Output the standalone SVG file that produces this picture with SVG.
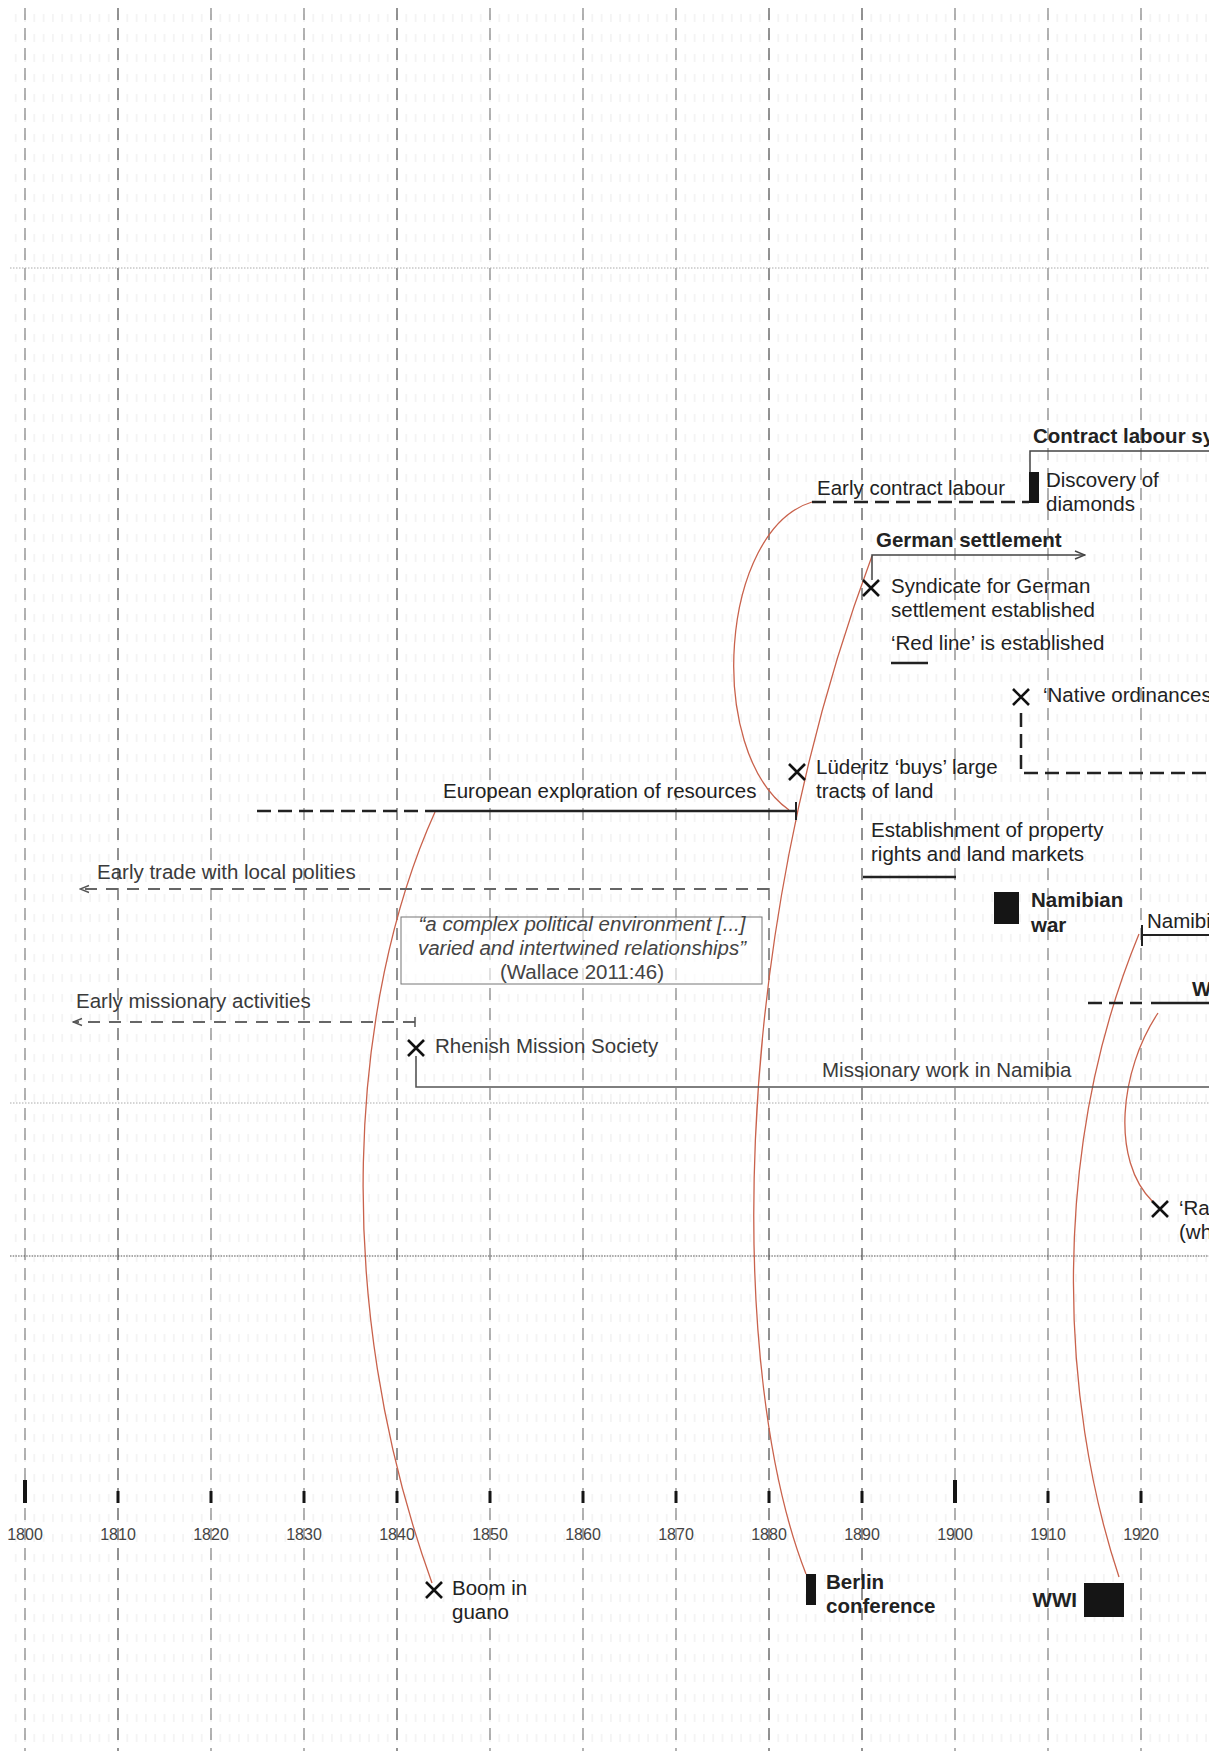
<svg xmlns="http://www.w3.org/2000/svg" width="1226" height="1751" viewBox="0 0 1226 1751">
<defs>
<style>
text{font-family:"Liberation Sans",Arial,Helvetica,sans-serif;font-size:20.5px;fill:#222}
.b{font-weight:bold}
.g{fill:#3a3a3a}
.q{font-style:italic;fill:#444;text-anchor:middle}
.qn{fill:#444;text-anchor:middle}
.yr{font-size:16px;fill:#444;text-anchor:middle}
.dec{stroke:#8a8a8a;stroke-width:1.3;stroke-dasharray:12 8;fill:none}
.decd{stroke:#5a5a5a;stroke-width:1.3;stroke-dasharray:12 8;fill:none}
.red{stroke:#c9624c;stroke-width:1.3;fill:none}
.solid{stroke:#222;stroke-width:2.5;fill:none}
.thin{stroke:#444;stroke-width:1.5;fill:none}
.dash{stroke:#222;stroke-width:2.5;stroke-dasharray:14 7;fill:none}
.gdash{stroke:#666;stroke-width:2;stroke-dasharray:12 9;fill:none}
.x{stroke:#111;stroke-width:2.6;fill:none}
.blk{fill:#151515}
</style>
<pattern id="minor" patternUnits="userSpaceOnUse" x="20.35" y="14" width="9.3" height="20">
<rect x="4.15" y="0" width="1" height="8" fill="#ebebeb"/>
</pattern>
<marker id="openR" markerWidth="12" markerHeight="10" refX="11" refY="5" orient="auto" markerUnits="userSpaceOnUse">
<path d="M1,1 L11,5 L1,9" fill="none" stroke="#444" stroke-width="1.4"/>
</marker>
<marker id="openG" markerWidth="12" markerHeight="10" refX="11" refY="5" orient="auto" markerUnits="userSpaceOnUse">
<path d="M2,1.5 L11,5 L2,8.5" fill="none" stroke="#555" stroke-width="1.4"/>
</marker>
<clipPath id="frame"><rect x="0" y="0" width="1209" height="1751"/></clipPath>
</defs>
<rect width="1226" height="1751" fill="#fff"/>
<g clip-path="url(#frame)">
<g id="grid">
<rect x="8" y="8" width="1201" height="1743" fill="url(#minor)"/>
<line class="dec" x1="25" y1="8" x2="25" y2="1751"/>
<line class="decd" x1="118" y1="8" x2="118" y2="1751"/>
<line class="dec" x1="211" y1="8" x2="211" y2="1751"/>
<line class="dec" x1="304" y1="8" x2="304" y2="1751"/>
<line class="decd" x1="397" y1="8" x2="397" y2="1751"/>
<line class="dec" x1="490" y1="8" x2="490" y2="1751"/>
<line class="dec" x1="583" y1="8" x2="583" y2="1751"/>
<line class="dec" x1="676" y1="8" x2="676" y2="1751"/>
<line class="decd" x1="769" y1="8" x2="769" y2="1751"/>
<line class="decd" x1="862" y1="8" x2="862" y2="1751"/>
<line class="dec" x1="955" y1="8" x2="955" y2="1751"/>
<line class="dec" x1="1048" y1="8" x2="1048" y2="1751"/>
<line class="dec" x1="1141" y1="8" x2="1141" y2="1751"/>
<line x1="10" y1="268" x2="1209" y2="268" stroke="#aaa" stroke-width="1" stroke-dasharray="1.5 1.5"/>
<line x1="10" y1="1103" x2="1209" y2="1103" stroke="#aaa" stroke-width="1" stroke-dasharray="1.5 1.5"/>
<line x1="10" y1="1256" x2="1209" y2="1256" stroke="#555" stroke-width="1.2" stroke-dasharray="1.5 1.2"/>
</g>
<g id="axis">
<rect x="23" y="1480" width="4" height="23" class="blk"/>
<rect x="116.5" y="1491" width="3" height="12" class="blk"/>
<rect x="209.5" y="1491" width="3" height="12" class="blk"/>
<rect x="302.5" y="1491" width="3" height="12" class="blk"/>
<rect x="395.5" y="1491" width="3" height="12" class="blk"/>
<rect x="488.5" y="1491" width="3" height="12" class="blk"/>
<rect x="581.5" y="1491" width="3" height="12" class="blk"/>
<rect x="674.5" y="1491" width="3" height="12" class="blk"/>
<rect x="767.5" y="1491" width="3" height="12" class="blk"/>
<rect x="860.5" y="1491" width="3" height="12" class="blk"/>
<rect x="953" y="1480" width="4" height="23" class="blk"/>
<rect x="1046.5" y="1491" width="3" height="12" class="blk"/>
<rect x="1139.5" y="1491" width="3" height="12" class="blk"/>
<text class="yr" x="25" y="1540">1800</text>
<text class="yr" x="118" y="1540">1810</text>
<text class="yr" x="211" y="1540">1820</text>
<text class="yr" x="304" y="1540">1830</text>
<text class="yr" x="397" y="1540">1840</text>
<text class="yr" x="490" y="1540">1850</text>
<text class="yr" x="583" y="1540">1860</text>
<text class="yr" x="676" y="1540">1870</text>
<text class="yr" x="769" y="1540">1880</text>
<text class="yr" x="862" y="1540">1890</text>
<text class="yr" x="955" y="1540">1900</text>
<text class="yr" x="1048" y="1540">1910</text>
<text class="yr" x="1141" y="1540">1920</text>
</g>
<g id="connectors">
<path class="red" d="M435,812 C350,1000 330,1300 432,1583"/>
<path class="red" d="M812,502 C720,530 705,750 789,810"/>
<path class="red" d="M806,1574 C730,1380 725,950 872,556"/>
<path class="red" d="M1119,1577 C1060,1400 1050,1150 1139,934"/>
<path class="red" d="M1158,1013 C1120,1070 1110,1160 1153,1202"/>
</g>
<g id="contract-labour">
<text class="b" x="1033" y="443">Contract labour sy</text>
<path class="thin" d="M1030,472 V451 H1209"/>
</g>
<g id="discovery-diamonds">
<rect class="blk" x="1029" y="472" width="10" height="31"/>
<text x="1046" y="487">Discovery of</text>
<text x="1046" y="511">diamonds</text>
</g>
<g id="early-contract-labour">
<text x="817" y="495">Early contract labour</text>
<line class="dash" x1="812" y1="502" x2="1029" y2="502"/>
</g>
<g id="german-settlement">
<text class="b" x="876" y="547">German settlement</text>
<path class="thin" d="M872,580 V555 H1085" marker-end="url(#openR)"/>
</g>
<g id="syndicate">
<path class="x" d="M863,580 L879,596 M879,580 L863,596"/>
<text x="891" y="593">Syndicate for German</text>
<text x="891" y="617">settlement established</text>
</g>
<g id="red-line">
<text x="891" y="650">‘Red line’ is established</text>
<line class="solid" x1="891" y1="663" x2="928" y2="663"/>
</g>
<g id="native-ordinances">
<path class="x" d="M1013,689 L1029,705 M1029,689 L1013,705"/>
<text x="1043" y="702">‘Native ordinances</text>
<path class="dash" d="M1021,713 V773 H1209"/>
</g>
<g id="luderitz">
<path class="x" d="M789,764 L805,780 M805,764 L789,780"/>
<text x="816" y="774">Lüderitz ‘buys’ large</text>
<text x="816" y="798">tracts of land</text>
</g>
<g id="european-exploration">
<text x="443" y="798">European exploration of resources</text>
<line class="dash" x1="257" y1="811" x2="434" y2="811"/>
<line class="solid" x1="434" y1="811" x2="796" y2="811"/>
<line x1="796" y1="802" x2="796" y2="820" stroke="#222" stroke-width="2"/>
</g>
<g id="property-rights">
<text x="871" y="837">Establishment of property</text>
<text x="871" y="861">rights and land markets</text>
<line class="solid" x1="863" y1="877" x2="956" y2="877" stroke-width="2"/>
</g>
<g id="namibian-war">
<rect class="blk" x="994" y="892" width="25" height="32"/>
<text class="b" x="1031" y="907">Namibian</text>
<text class="b" x="1031" y="932">war</text>
</g>
<g id="namibi">
<text x="1147" y="928">Namibi</text>
<path d="M1142,925 V946 M1142,935 H1209" stroke="#222" stroke-width="2" fill="none"/>
</g>
<g id="early-trade">
<text class="g" x="97" y="879">Early trade with local polities</text>
<line class="gdash" x1="769" y1="889" x2="80" y2="889" marker-end="url(#openG)"/>
</g>
<g id="quote">
<rect x="401" y="917" width="361" height="67" fill="#fff" fill-opacity="0.6" stroke="#777" stroke-width="1"/>
<text class="q" x="582" y="931">“a complex political environment [...]</text>
<text class="q" x="582" y="955">varied and intertwined relationships”</text>
<text class="qn" x="582" y="979">(Wallace 2011:46)</text>
</g>
<g id="w-line">
<text class="b" x="1192" y="996">W</text>
<line class="dash" x1="1088" y1="1003" x2="1142" y2="1003"/>
<line class="solid" x1="1151" y1="1003" x2="1209" y2="1003"/>
</g>
<g id="early-missionary">
<text class="g" x="76" y="1008">Early missionary activities</text>
<line class="gdash" x1="415" y1="1022" x2="73" y2="1022" marker-end="url(#openG)"/>
<line x1="415" y1="1017" x2="415" y2="1027" stroke="#555" stroke-width="1.5"/>
</g>
<g id="rhenish">
<path class="x" d="M408,1040 L424,1056 M424,1040 L408,1056"/>
<text class="g" x="435" y="1053">Rhenish Mission Society</text>
</g>
<g id="missionary-work">
<text class="g" x="822" y="1077">Missionary work in Namibia</text>
<path d="M416,1056 V1087 H1209" stroke="#555" stroke-width="1.6" fill="none"/>
</g>
<g id="ra">
<path class="x" d="M1152,1201 L1168,1217 M1168,1201 L1152,1217"/>
<text x="1179" y="1215">‘Ra</text>
<text x="1179" y="1239">(wh</text>
</g>
<g id="boom-guano">
<path class="x" d="M426,1582 L442,1598 M442,1582 L426,1598"/>
<text x="452" y="1595">Boom in</text>
<text x="452" y="1619">guano</text>
</g>
<g id="berlin-conference">
<rect class="blk" x="806" y="1574" width="10" height="31"/>
<text class="b" x="826" y="1589">Berlin</text>
<text class="b" x="826" y="1613">conference</text>
</g>
<g id="wwi">
<rect class="blk" x="1084" y="1583" width="40" height="34"/>
<text class="b" x="1077" y="1607" text-anchor="end">WWI</text>
</g>
</g>
</svg>
